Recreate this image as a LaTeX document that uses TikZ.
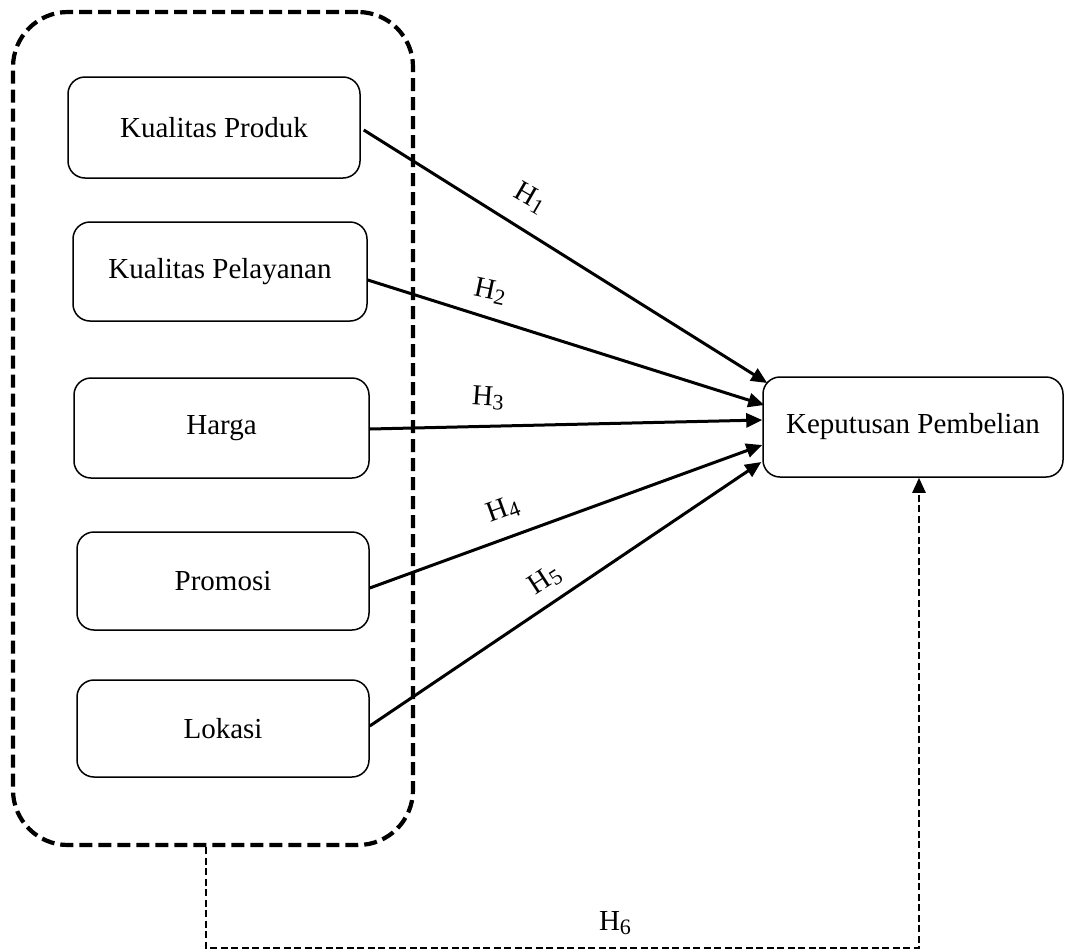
\documentclass[tikz,border=0pt]{standalone}
\usepackage{fontspec}
\setmainfont{Liberation Serif}
\usetikzlibrary{arrows.meta,calc}
\newcommand{\hyp}[1]{H\raisebox{-3.5pt}{\fontsize{22}{22}\selectfont #1}}
\begin{document}
\begin{tikzpicture}[x=1pt,y=-1pt,
  varbox/.style={draw, line width=1.5pt, rounded corners=17pt, minimum height=100pt, inner sep=0pt, font=\fontsize{29}{34}\selectfont},
  grpbox/.style={draw, line width=4.2pt, dash pattern=on 13pt off 6pt, rounded corners=55pt, inner sep=0pt},
  arr/.style={line width=3pt, -{Triangle[length=16pt,width=14pt]}},
  dasharr/.style={line width=2.4pt, dash pattern=on 7pt off 3.5pt, -{Triangle[length=15pt,width=13pt]}},
  hlab/.style={inner sep=0pt, font=\fontsize{29}{34}\selectfont}]
\useasboundingbox (0,0) rectangle (1065,951);

\node[grpbox, minimum width=400pt, minimum height=833pt] (grp) at (213,428.5) {};

\node[varbox, minimum width=292pt, minimum height=101pt] (b1) at (214,127.5) {Kualitas Produk};
\node[varbox, minimum width=294pt, minimum height=99pt] (b2) at (220,271.5) {Kualitas Pelayanan};
\node[varbox, minimum width=295pt, minimum height=100pt] (b3) at (221.5,428) {Harga};
\node[varbox, minimum width=292pt, minimum height=98pt] (b4) at (223,581) {Promosi};
\node[varbox, minimum width=292pt, minimum height=97pt] (b5) at (223,728.5) {Lokasi};

\node[varbox, minimum width=300pt, minimum height=100pt] (kp) at (913,427) {Keputusan Pembelian};

\draw[arr] ([xshift=3pt,yshift=-2.5pt]b1.east) -- ([xshift=5pt,yshift=44pt]kp.west);
\draw[arr] ([yshift=-8.5pt]b2.east) -- ([xshift=2pt,yshift=22pt]kp.west);
\draw[arr] ([yshift=-1pt]b3.east) -- ([yshift=7pt]kp.west);
\draw[arr] ([yshift=-7pt]b4.east) -- ([yshift=-18pt]kp.west);
\draw[arr] ([yshift=2.5pt]b5.east) -- ([xshift=-1pt,yshift=-35pt]kp.west);

\node[hlab, rotate=-30] (l1) at (530,198) {\hyp{1}};
\node[hlab, rotate=-12] (l2) at (490,291) {\hyp{2}};
\node[hlab, rotate=-4] (l3) at (488,398) {\hyp{3}};
\node[hlab, rotate=20] (l4) at (503,510) {\hyp{4}};
\node[hlab, rotate=33] (l5) at (545,580) {\hyp{5}};
\node[hlab] (l6) at (615,923) {\hyp{6}};

\coordinate (c1) at (206,948);
\coordinate (c2) at (919,948);
\draw[dasharr] ([xshift=-7pt]grp.south) -- (c1) -- (c2) -- (kp.south -| c2);
\end{tikzpicture}
\end{document}
